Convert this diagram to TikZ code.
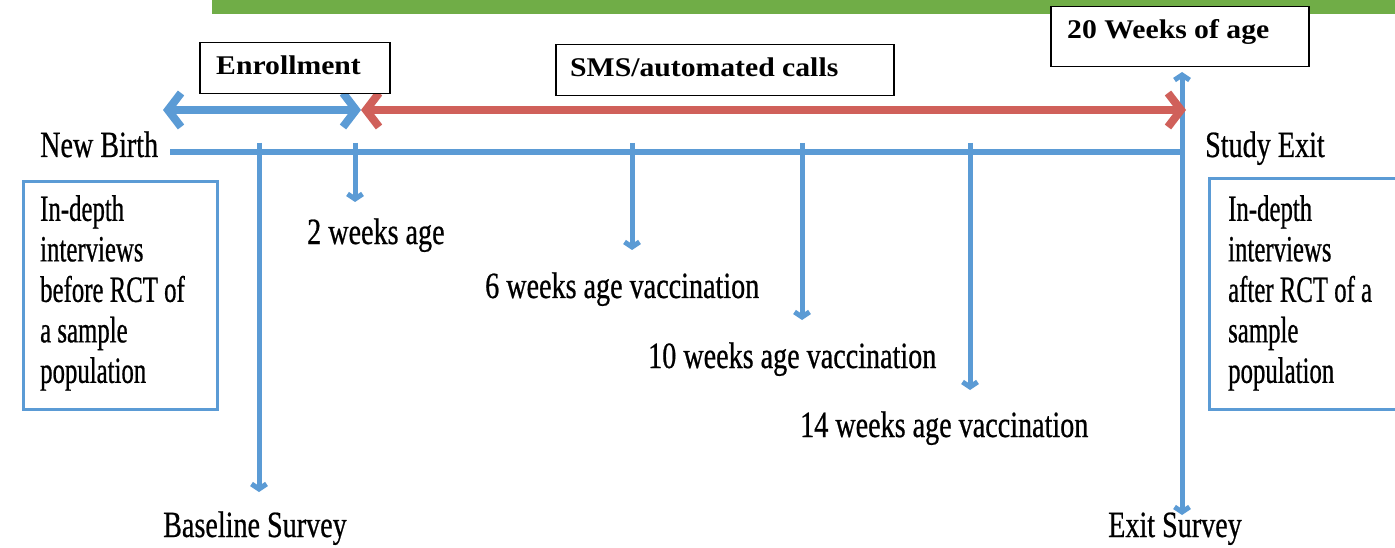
\documentclass[tikz,border=0pt]{standalone}
\usepackage{fontspec}
\setmainfont{Liberation Serif}
\newfontfamily\condfont[FakeStretch=0.76,FakeBold=0.6]{Liberation Serif}
\newfontfamily\narrowfont[FakeStretch=0.67,FakeBold=0.6]{Liberation Serif}
\newfontfamily\tagfont[FakeStretch=1.1]{Liberation Serif}
\usetikzlibrary{arrows.meta}
\definecolor{tlblue}{HTML}{5B9BD5}
\definecolor{tlred}{HTML}{D0605A}
\definecolor{tlgreen}{HTML}{70AD47}
\begin{document}
\begin{tikzpicture}[x=1pt,y=-1pt,
  lbl/.style={font=\condfont\fontsize{37}{40}\selectfont, inner sep=0pt, anchor=base west},
  boxtext/.style={font=\narrowfont\fontsize{37}{40.5}\selectfont, inner sep=0pt, anchor=north west, align=left},
  tagbox/.style={draw=black, line width=1.5pt, fill=white, anchor=north west, inner sep=0pt},
  tagtext/.style={font=\tagfont\bfseries\fontsize{27}{30}\selectfont, inner sep=0pt, anchor=base west},
  bluebox/.style={draw=tlblue, line width=3pt, anchor=north west, inner sep=0pt},
  bigarrow/.style={line width=8pt, {Straight Barb[length=13pt,width=34pt]}-{Straight Barb[length=13pt,width=34pt]}},
  timeline/.style={draw=tlblue, line width=6pt},
  tick/.style={draw=tlblue, line width=5pt, -{Straight Barb[length=5pt,width=15pt]}},
  tickboth/.style={draw=tlblue, line width=5pt, {Straight Barb[length=5pt,width=15pt]}-{Straight Barb[length=5pt,width=15pt]}}
]
\useasboundingbox (0,0) rectangle (1395,548);
\clip (0,0) rectangle (1395,548);
\fill[white] (0,0) rectangle (1395,548);
% green banner
\fill[tlgreen] (212,0) rectangle (1395,14);

% timeline coordinates
\coordinate (tlstart) at (170,152);
\coordinate (tlend) at (1182,152);
\coordinate (base) at (259,143);
\coordinate (w2) at (355,143);
\coordinate (w6) at (632,143);
\coordinate (w10) at (802,143);
\coordinate (w14) at (970,143);
\coordinate (exittop) at (1182,72);
\coordinate (exitbot) at (1182,515);
\coordinate (enrA) at (163,110);
\coordinate (enrB) at (361,110);
\coordinate (smsB) at (1186,110);

% main timeline
\draw[timeline] (tlstart) -- (tlend);

% labels
\node[lbl] (newbirth) at (40,157) {New Birth};
\node[lbl] (studyexit) at (1205,157) {Study Exit};
\node[lbl] (l2) at (307,244) {2 weeks age};
\node[lbl] (l6) at (485,298) {6 weeks age vaccination};
\node[lbl] (l10) at (648,368) {10 weeks age vaccination};
\node[lbl] (l14) at (800,437) {14 weeks age vaccination};
\node[lbl] (lbase) at (163,537) {Baseline Survey};
\node[lbl] (lexit) at (1108,537) {Exit Survey};

% arrow end points
\coordinate (base2) at (259,492);
\coordinate (w2b) at (355,202);
\coordinate (w6b) at (632,250);
\coordinate (w10b) at (802,320);
\coordinate (w14b) at (970,390);

\draw[tick] (base) -- (base2);
\draw[tick] (w2) -- (w2b);
\draw[tick] (w6) -- (w6b);
\draw[tick] (w10) -- (w10b);
\draw[tick] (w14) -- (w14b);
\draw[tickboth] (exittop) -- (exitbot);

% big arrows
\draw[bigarrow, tlblue] (enrA) -- (enrB);
\draw[bigarrow, tlred] (enrB) -- (smsB);

% tag boxes
\node[tagbox, minimum width=190, minimum height=51] (enrbox) at (199,42) {};
\node[tagtext] (enrtext) at (216,75) {Enrollment};
\node[tagbox, minimum width=338, minimum height=51] (smsbox) at (555,44) {};
\node[tagtext] (smstext) at (570,77) {SMS/automated calls};
\node[tagbox, minimum width=258, minimum height=60] (agebox) at (1050,6) {};
\node[tagtext] (agetext) at (1067,39) {20 Weeks of age};

% interview boxes
\node[bluebox, minimum width=194, minimum height=228] (lbox) at (22,180) {};
\node[boxtext] (ltext) at (40,195) {In-depth\\interviews\\before RCT of\\a sample\\population};
\node[bluebox, minimum width=200, minimum height=231] (rbox) at (1208,177) {};
\node[boxtext] (rtext) at (1228,195) {In-depth\\interviews\\after RCT of a\\sample\\population};
\end{tikzpicture}
\end{document}
